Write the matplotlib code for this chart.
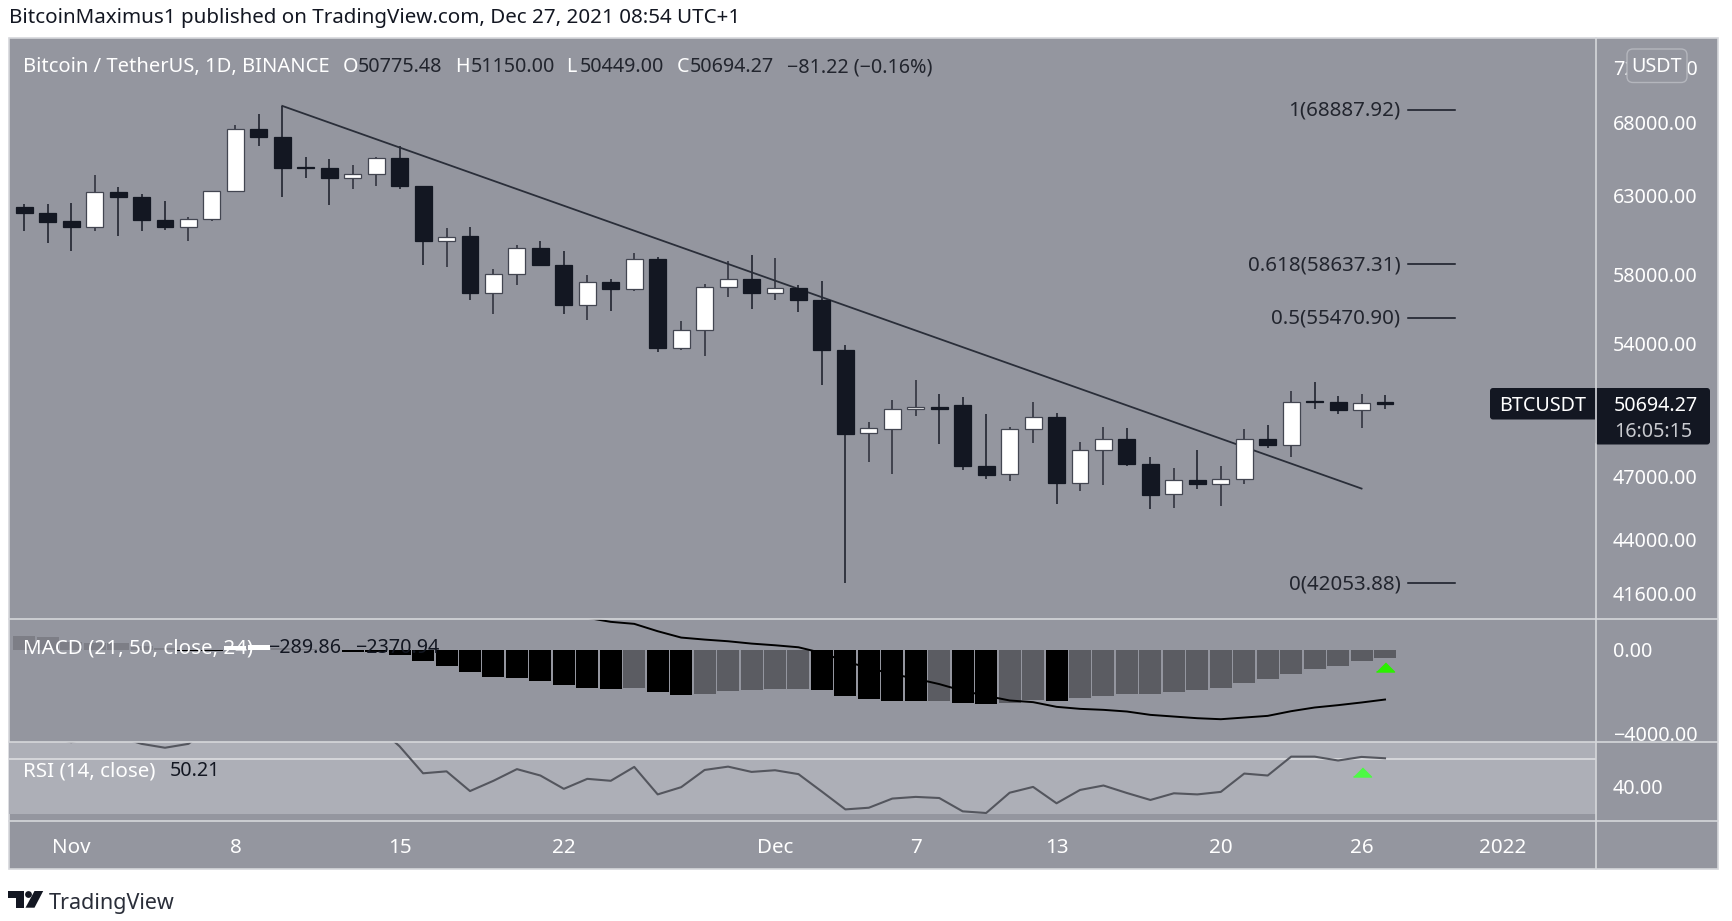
import numpy as np
import matplotlib
matplotlib.use("Agg")
import matplotlib.pyplot as plt
from matplotlib.patches import Rectangle, FancyBboxPatch, Polygon, Circle

plt.rcParams['font.family'] = ['Noto Sans', 'DejaVu Sans']

# candles, one entry per day from Oct 30 2021
opens = [62249, 61864, 61353, 60950, 63250, 62922, 61415, 60950, 61450, 63290,
         67540, 66980, 64875, 64810, 64175, 64390, 65500, 63650, 60060, 60380,
         56910, 58040, 59640, 58610, 56225, 57570, 57130, 58950, 53740, 54735,
         57260, 57770, 56910, 57220, 56515, 53620, 49168, 49380, 50420, 50560,
         50650, 47520, 47115, 49410, 50030, 46705, 48320, 48880, 47630, 46140,
         46830, 46650, 46880, 48880, 48575, 50835, 50820, 50380, 50775.48]
highs = [62421, 62421, 62490, 64340, 63560, 63096, 62620, 61575, 63310, 67822,
         68575, 69160, 65590, 65440, 65055, 65590, 66300, 63650, 60900, 60985,
         58350, 59830, 60100, 59440, 57990, 57770, 59350, 59100, 55280, 57440,
         58830, 59190, 59050, 57400, 57640, 53880, 49750, 50890, 51960, 51200,
         51050, 50170, 49480, 50780, 50200, 48710, 49480, 49420, 47980, 47410,
         48300, 47525, 49370, 49590, 51410, 51870, 51120, 51250, 51150]
lows = [60690, 59976, 59484, 60690, 60417, 60690, 60774, 60100, 61365, 63290,
        66300, 62922, 64150, 62355, 63420, 63650, 63420, 58600, 58450, 56500,
        55670, 57390, 58515, 55670, 55350, 55880, 57030, 53540, 53650, 53280,
        56690, 55960, 56480, 55800, 51730, 42053.88, 47720, 47140, 50040, 48600,
        47310, 46870, 46805, 48660, 45680, 46285, 46570, 47530, 45440, 45505,
        46410, 45570, 46620, 48440, 47960, 50410, 50170, 49450, 50449]
closes = [61842, 61310, 60950, 63230, 62922, 61395, 60950, 61470, 63310, 67540,
          66959, 64850, 64830, 64175, 64410, 65500, 63600, 60060, 60360, 56916,
          58040, 59640, 58600, 56225, 57540, 57130, 58940, 53740, 54735, 57280,
          57770, 56910, 57220, 56496, 53600, 49150, 49430, 50430, 50560, 50420,
          47500, 47095, 49410, 50010, 46705, 48320, 48860, 47600, 46125, 46810,
          46635, 46880, 48860, 48560, 50820, 50800, 50380, 50770, 50694.27]

trend_days = [11, 57]
trend_prices = [69160, 46417]

fib_labels = ['1(68887.92)', '0.618(58637.31)', '0.5(55470.90)', '0(42053.88)']
fib_values = [68887.92, 58637.31, 55470.90, 42053.88]
fib_days = [59, 61]

price_ticks = [72000, 68000, 63000, 58000, 54000, 47000, 44000, 41600]

hist = [656, 600, 400, 350, 320, 190, 96, -30, -60, 190,
        220, 100, 30, 10, -96, -110, -256, -512, -752, -1072,
        -1296, -1360, -1472, -1696, -1808, -1872, -1808, -2032, -2144, -2096,
        -1968, -1920, -1856, -1850, -1920, -2192, -2368, -2420, -2440, -2430,
        -2544, -2592, -2544, -2384, -2432, -2304, -2192, -2110, -2090, -2032,
        -1920, -1808, -1584, -1408, -1136, -912, -752, -512, -400]
macd_days = list(range(24, 59))
macd_line = [1536, 1344, 1248, 896, 592, 496, 416, 304, 224, 128,
             -144, -544, -864, -1152, -1376, -1632, -1952, -2192, -2416, -2496,
             -2720, -2816, -2864, -2944, -3104, -3184, -3264, -3312, -3232, -3152,
             -2928, -2752, -2640, -2512, -2370.94]

rsi = [60, 58, 56, 58, 58, 55.4, 54.0, 55.4, 62, 72,
       70, 64, 62, 60, 60, 62, 54.5, 44.8, 45.5, 38.4,
       42.1, 46.3, 44.0, 39.2, 42.8, 42.1, 47.1, 37.2, 39.8, 46.0,
       47.2, 45.3, 45.9, 44.5, 38.2, 31.8, 32.4, 35.7, 36.3, 35.9,
       31.1, 30.5, 37.8, 39.9, 34.0, 38.8, 40.4, 37.7, 35.2, 37.6,
       37.2, 38.1, 44.7, 44.0, 50.8, 50.8, 49.4, 50.7, 50.21]

date_ticks = [2, 9, 16, 23, 32, 38, 44, 51, 57, 63]
date_labels = ['Nov', '8', '15', '22', 'Dec', '7', '13', '20', '26', '2022']

W, H = 1732, 921
PANEL = '#94969f'
LINE = '#d6d7db'
DARK = '#131722'
WHITE = '#ffffff'
FS = 14.2
FS_WORDS = 14.8


def pane(fig, top, bottom):
    left, right = 8.5, 1595.7
    ax = fig.add_axes([left / W, 1 - bottom / H, (right - left) / W, (bottom - top) / H], zorder=2)
    ax.patch.set_visible(False)
    for spine in ax.spines.values():
        spine.set_visible(False)
    ax.set_xlim(-0.67, 66.98)
    ax.yaxis.tick_right()
    ax.tick_params(axis='y', which='major', length=0, pad=12.4, labelsize=FS, labelcolor=WHITE)
    ax.tick_params(axis='y', which='minor', length=0, labelright=False, labelleft=False)
    ax.tick_params(axis='x', length=0, labelbottom=False)
    return ax


def draw_candles(ax):
    days = np.arange(len(opens))
    o = np.array(opens)
    c = np.array(closes)
    rising = c >= o
    wick_colors = ['#3a3c47' if r else '#2a2d38' for r in rising]
    ax.vlines(days, lows, highs, colors=wick_colors, linewidth=1.3, zorder=2)
    ax.plot(trend_days, trend_prices, color='#2a2e39', linewidth=1.3, zorder=3)
    ax.bar(days, np.abs(c - o), bottom=np.minimum(o, c), width=0.72,
           color=[WHITE if r else DARK for r in rising],
           edgecolor=['#434651' if r else DARK for r in rising],
           linewidth=0.9, zorder=4)


def draw_fibs(ax):
    for label, value in zip(fib_labels, fib_values):
        ax.plot(fib_days, [value, value], color='#131722', linewidth=1.1, zorder=3)
        ax.annotate(label, (fib_days[0], value), xytext=(-8, -1), textcoords='offset pixels',
                    ha='right', va='center', fontsize=FS_WORDS, color='#22252e')


def hist_colors():
    colors = []
    for i, v in enumerate(hist):
        falling = i == 0 or v < hist[i - 1]
        if v >= 0:
            colors.append('#7d7e86' if falling else WHITE)
        else:
            colors.append('#000000' if falling else '#5b5c62')
    return colors


def txt(over, x, y, s, color=WHITE, size=FS, **kw):
    over.text(x, y, s, color=color, fontsize=size, va='center', **kw)


def main():
    fig = plt.figure(figsize=(W / 100, H / 100), dpi=100, facecolor='white')

    back = fig.add_axes([0, 0, 1, 1], zorder=0)
    back.set_xlim(0, W)
    back.set_ylim(H, 0)
    back.axis('off')
    back.add_patch(Rectangle((8.5, 38), 1709.5, 831, facecolor=PANEL, edgecolor=LINE, linewidth=1.2))

    # price pane
    ax = pane(fig, 38, 618.5)
    ax.set_yscale('log')
    ax.set_ylim(40539, 74232)
    ax.minorticks_off()
    ax.set_yticks(price_ticks, ['%.2f' % t for t in price_ticks])
    draw_candles(ax)
    draw_fibs(ax)

    # macd pane
    ax_macd = pane(fig, 618.5, 742.3)
    ax_macd.set_ylim(-4416, 1504)
    ax_macd.set_yticks([0, -4000], ['0.00', '\u22124000.00'])
    ax_macd.bar(np.arange(len(hist)), hist, width=0.94, color=hist_colors(), zorder=2)
    ax_macd.plot(macd_days, macd_line, color='#000000', linewidth=1.4, zorder=3)
    ax_macd.plot([58], [-816], marker=[(-1, -0.5), (1, -0.5), (0, 0.5)], markersize=13,
                 color='#2bf000', zorder=4, linestyle='none')

    # rsi pane
    ax_rsi = pane(fig, 742.3, 820.7)
    ax_rsi.set_ylim(27.73, 55.96)
    ax_rsi.axhspan(30, 70, facecolor='#adafb7', zorder=1)
    ax_rsi.axhline(50, color='#dcdde0', linewidth=1.2, zorder=2)
    ax_rsi.plot(np.arange(len(rsi)), rsi, color='#54565e', linewidth=1.5, zorder=3)
    ax_rsi.plot([57], [45.3], marker=[(-1, -0.5), (1, -0.5), (0, 0.5)], markersize=13,
                color='#4dfa44', zorder=4, linestyle='none')
    ax_rsi.set_yticks([40], ['40.00'])
    ax_rsi.set_xticks(date_ticks, date_labels)
    ax_rsi.tick_params(axis='x', labelbottom=True, length=0, pad=12.3, labelsize=FS_WORDS, labelcolor=WHITE)

    # labels and separators on top
    over = fig.add_axes([0, 0, 1, 1], zorder=5)
    over.set_xlim(0, W)
    over.set_ylim(H, 0)
    over.axis('off')
    for y in (618.5, 742.3, 820.7):
        over.plot([8.5, 1718], [y, y], color=LINE, linewidth=1.2)
    over.plot([1595.7, 1595.7], [38, 869], color=LINE, linewidth=1.2)

    txt(over, 9, 18, 'BitcoinMaximus1 published on TradingView.com, Dec 27, 2021 08:54 UTC+1',
        color='#131722', size=14.8)

    txt(over, 22.7, 67, 'Bitcoin / TetherUS, 1D, BINANCE', size=14.5)
    for x, s in [(343, 'O'), (455, 'H'), (566, 'L'), (677, 'C')]:
        txt(over, x, 67, s)
    for x, s in [(358, '50775.48'), (471, '51150.00'), (580, '50449.00'), (690, '50694.27'),
                 (787, '\u221281.22 (\u22120.16%)')]:
        txt(over, x, 67, s, color='#22252e')

    txt(over, 22.7, 648, 'MACD (21, 50, close, 24)', size=FS_WORDS)
    txt(over, 268, 648, '\u2212289.86', color='#131722')
    txt(over, 355, 648, '\u22122370.94', color='#131722')
    txt(over, 23, 771, 'RSI (14, close)', size=FS_WORDS)
    txt(over, 170, 771, '50.21', color='#131722')

    # USDT button over the top tick
    over.add_patch(FancyBboxPatch((1631, 53), 52, 25.5, boxstyle='round,pad=4,rounding_size=6',
                                  facecolor=PANEL, edgecolor='#b4b6bd', linewidth=1))
    txt(over, 1657, 67, 'USDT', ha='center')

    # last price tag
    over.add_patch(FancyBboxPatch((1492, 390), 216, 27.5, boxstyle='round,pad=2,rounding_size=3',
                                  facecolor=DARK, edgecolor=DARK, linewidth=0))
    over.add_patch(FancyBboxPatch((1597, 400), 111, 42.5, boxstyle='round,pad=2,rounding_size=3',
                                  facecolor=DARK, edgecolor=DARK, linewidth=0))
    txt(over, 1499, 406, 'BTCUSDT')
    txt(over, 1614, 406, '50694.27')
    txt(over, 1614, 432, '16:05:15', color='#c9cbd0')

    # logo
    over.add_patch(Polygon([(8.4, 891), (23.5, 891), (23.5, 907.7), (15.5, 907.7), (15.5, 897.5), (8.4, 897.5)],
                           facecolor='#131722', edgecolor='none'))
    over.add_patch(Circle((28.5, 894.5), 3.4, facecolor='#131722', edgecolor='none'))
    over.add_patch(Polygon([(34.5, 891), (43.2, 891), (34.5, 907.7), (25.5, 907.7)],
                           facecolor='#131722', edgecolor='none'))
    txt(over, 49, 903, 'TradingView', color='#2a2e39', size=15.5)

    fig.savefig('out.png', dpi=100, facecolor='white')


if __name__ == "__main__":
    main()
